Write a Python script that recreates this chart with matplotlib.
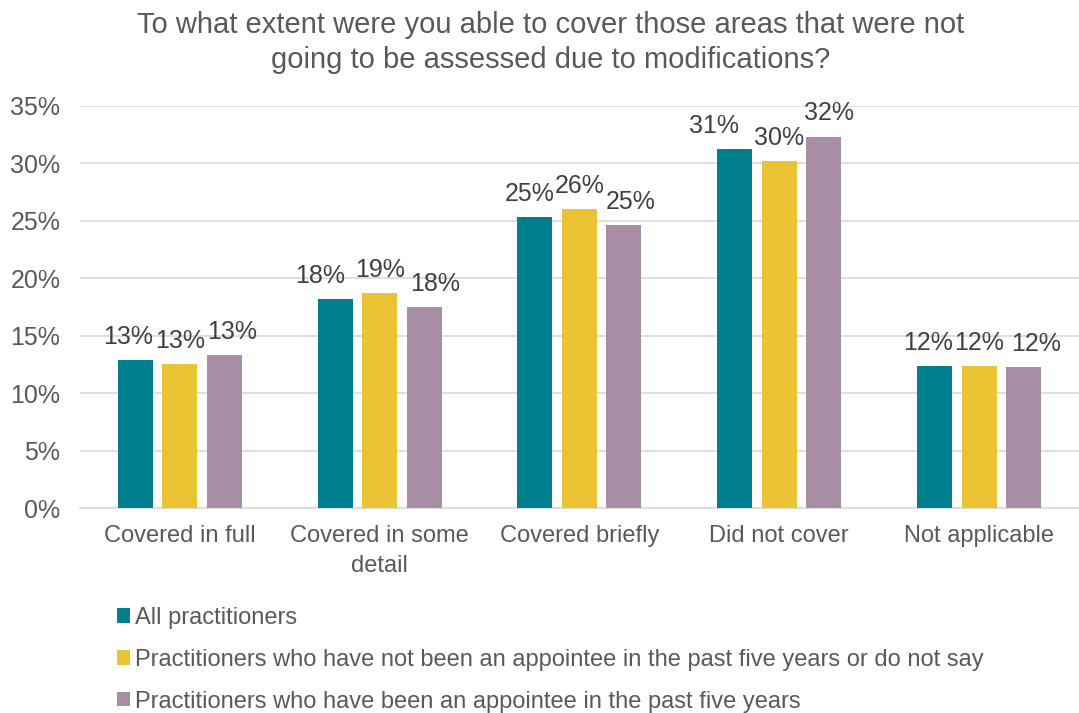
import numpy as np
import matplotlib.pyplot as plt

categories = ["Covered in full", "Covered in some\ndetail", "Covered briefly",
              "Did not cover", "Not applicable"]
series_names = [
    "All practitioners",
    "Practitioners who have not been an appointee in the past five years or do not say",
    "Practitioners who have been an appointee in the past five years",
]
all_pract = [12.9, 18.15, 25.3, 31.2, 12.33]
not_appointee = [12.56, 18.7, 26.0, 30.2, 12.39]
appointee = [13.34, 17.5, 24.6, 32.3, 12.24]
colors = ["#00808E", "#EBC334", "#A78EA4"]

# horizontal nudge (points) of data labels so neighbours don't collide, per group
label_nudge = [
    [-5, 0, 6],
    [-11, 0, 8],
    [-4, 0, 5],
    [-15, 0, 4],
    [-5, 0, 9],
]

plt.rcParams["font.family"] = ["Liberation Sans", "DejaVu Sans"]

fig = plt.figure(figsize=(10.79, 7.13), dpi=100)
ax = fig.add_axes([0.074, 0.287, 0.926, 0.565])

x = np.arange(len(categories))
width = 0.175
offset = 0.2225
for i, (vals, name, c) in enumerate(zip([all_pract, not_appointee, appointee], series_names, colors)):
    bars = ax.bar(x + (i - 1) * offset, vals, width, color=c, label=name, zorder=3)
    for j, (b, v) in enumerate(zip(bars, vals)):
        ax.annotate(f"{v:.0f}%", (b.get_x() + b.get_width() / 2, v),
                    xytext=(label_nudge[j][i], 8), textcoords="offset points",
                    ha="center", va="bottom", fontsize=18, color="#404040")

ax.set_xlim(-0.5, len(categories) - 0.5)
ax.set_ylim(0, 35)
ax.set_yticks(np.arange(0, 36, 5))
ax.set_yticklabels([f"{t}%" for t in range(0, 36, 5)])
ax.set_xticks(x)
ax.set_xticklabels(categories, linespacing=1.45)
ax.tick_params(axis="both", length=0, labelcolor="#595959")
ax.tick_params(axis="x", pad=12, labelsize=17)
ax.tick_params(axis="y", pad=14, labelsize=18)
ax.grid(axis="y", color="#D9D9D9", linewidth=1.2, zorder=0)
for s in ["top", "right", "left"]:
    ax.spines[s].set_visible(False)
ax.spines["bottom"].set_color("#D9D9D9")
ax.spines["bottom"].set_linewidth(1.2)

fig.suptitle("To what extent were you able to cover those areas that were not\n"
             "going to be assessed due to modifications?",
             x=0.51, y=0.985, fontsize=21, color="#595959", linespacing=1.35)

fig.legend(loc="upper left", bbox_to_anchor=(0.1, 0.162), frameon=False,
           fontsize=17, labelcolor="#595959", handlelength=0.55, handleheight=0.55,
           handletextpad=0.2, labelspacing=0.84, borderaxespad=0)

fig.savefig("out.png", dpi=100)
